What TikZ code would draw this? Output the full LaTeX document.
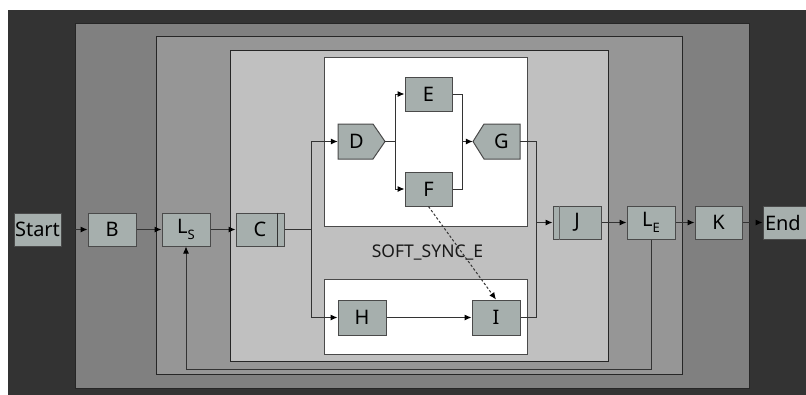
\documentclass[tikz,border=0pt]{standalone}
\usepackage{fontspec}
\setmainfont{Noto Sans}
\usetikzlibrary{arrows.meta,calc}
\definecolor{outerc}{HTML}{333333}
\definecolor{lvltwo}{HTML}{808080}
\definecolor{lvlthree}{HTML}{969696}
\definecolor{lvlfour}{HTML}{C0C0C0}
\definecolor{nodefill}{HTML}{A6AFAD}
\definecolor{nodeedge}{HTML}{4A4A4A}
\definecolor{linec}{HTML}{333333}
\tikzset{
  box/.style={draw=nodeedge, line width=1pt, fill=nodefill, minimum width=48pt, minimum height=33pt, inner sep=0pt, font=\fontsize{20}{22}\selectfont, text=black},
  txtonly/.style={minimum width=47pt, minimum height=35pt, inner sep=0pt, font=\fontsize{20}{22}\selectfont, text=black},
  conn/.style={draw=linec, line width=1pt},
  arr/.style={conn, -{Latex[length=7pt,width=6pt,color=black]}},
  dsh/.style={draw=linec, line width=1pt, dash pattern=on 2.5pt off 2pt, -{Latex[length=7pt,width=6pt,color=black]}},
  frame/.style={draw=black!85, line width=1pt},
}
\newcommand{\subtxt}[1]{\raisebox{-0.55ex}{\fontsize{13}{13}\selectfont #1}}
\begin{document}
\begin{tikzpicture}[x=1pt,y=-1pt]
\useasboundingbox (0,0) rectangle (806,394);
\fill[white] (0,0) rectangle (806,394);
% nested frames
\fill[outerc] (8,10) rectangle (812,400);
\path[fill=lvltwo, frame] (75,23) rectangle (749,388);
\path[fill=lvlthree, frame] (156,36) rectangle (682,374);
\path[fill=lvlfour, frame] (230,50) rectangle (608,361);
\path[fill=white, draw=nodeedge, line width=1pt] (324,57) rectangle (527,226);
\path[fill=white, draw=nodeedge, line width=1pt] (324,279) rectangle (527,354);
\node[font=\fontsize{17.5}{20}\selectfont, text=black!90] (lbl) at (427.5,252) {SOFT\_SYNC\_E};
% main row left
\node[box, minimum width=47pt] (start) at (37.5,229.5) {Start};
\node[box] (B) at (112,229.5) {B};
\node[box] (LS) at (186,229.5) {L\subtxt{S}};
\node[box] (C) at (260,229.5) {C};
\draw[draw=black!80, line width=1pt] ($(C.north east)+(-7,0)$) -- ($(C.south east)+(-7,0)$);
% D pentagon
\path[fill=nodefill, draw=nodeedge, line width=1pt] (338,124) -- (373,124) -- (385,141.5) -- (373,159) -- (338,159) -- cycle;
\node[txtonly] (D) at (361.5,141.5) {\hspace*{-10pt}D};
\node[box, minimum width=47pt, minimum height=34pt] (E) at (428.5,94) {E};
\node[box, minimum width=47pt, minimum height=34pt] (F) at (428.5,189) {F};
% G pentagon
\path[fill=nodefill, draw=nodeedge, line width=1pt] (520,124) -- (484,124) -- (473,141.5) -- (484,159) -- (520,159) -- cycle;
\node[txtonly] (G) at (496.5,141.5) {\hspace*{10pt}G};
\node[box, minimum height=35pt] (H) at (362,317.5) {H};
\node[box, minimum height=35pt] (I) at (496,317.5) {I};
% right row
\node[box] (J) at (577,222.5) {J};
\draw[draw=black!60, line width=1pt] ($(J.north west)+(7,0)$) -- ($(J.south west)+(7,0)$);
\node[box] (LE) at (651,222.5) {L\subtxt{E}};
\node[box, minimum width=47pt] (K) at (718.5,222.5) {K};
\node[box, minimum width=50pt, text width=46pt, align=left] (End) at (788,222.5) {End};
% coordinates
\coordinate (sp) at (311,229.5);
\coordinate (bD) at (395,141.5);
\coordinate (mG) at (462,141.5);
\coordinate (jG) at (536,141.5);
\coordinate (jn) at (536,222.5);
\coordinate (jI) at (536,317.5);
\coordinate (lpR) at (651,369);
\coordinate (lpL) at (186,369);
% connectors
\draw[arr] (start) -- (B);
\draw[arr] (B) -- (LS);
\draw[arr] (LS) -- (C);
\draw[conn] (C.east) -- (sp);
\draw[arr] (sp) |- (D.west);
\draw[arr] (sp) |- (H.west);
\draw[conn] (D.east) -- (bD);
\draw[arr] (bD) |- (E.west);
\draw[arr] (bD) |- (F.west);
\draw[conn] (E.east) -| (mG);
\draw[conn] (F.east) -| (mG);
\draw[arr] (mG) -- (G.west);
\draw[arr] (H) -- (I);
\draw[conn] (G.east) -- (jG) -- (jI) -- (I.east);
\draw[arr] (jn) -- (J.west);
\draw[arr] (J) -- (LE);
\draw[arr] (LE) -- (K);
\draw[arr] (K) -- (End);
\draw[arr] (LE.south) -- (lpR) -- (lpL) -- (LS.south);
\draw[dsh] (F.south) -- (I.north);
\end{tikzpicture}
\end{document}
